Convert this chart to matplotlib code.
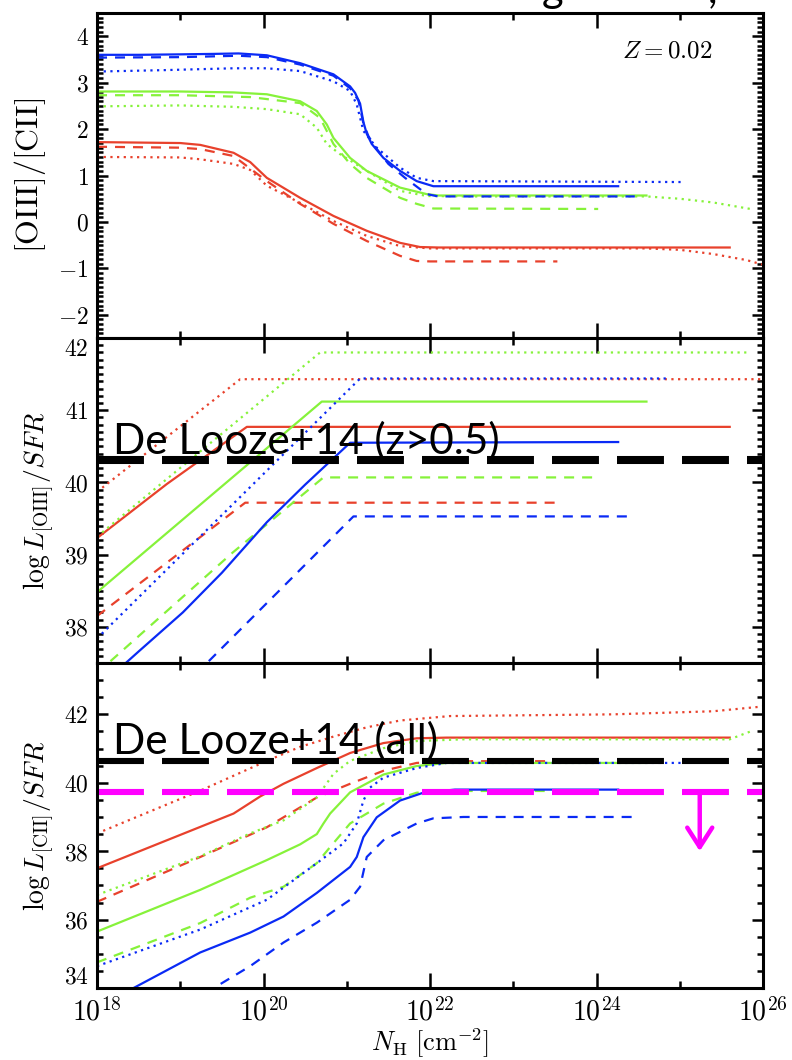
import numpy as np
import matplotlib
matplotlib.use("Agg")
import matplotlib.pyplot as plt
from matplotlib.ticker import FixedLocator, MultipleLocator, FuncFormatter, NullFormatter

plt.rcParams['mathtext.fontset'] = 'cm'
plt.rcParams['font.family'] = ['DejaVu Serif']

# ---- data: (log N_H, value) ----
# top panel: [OIII]/[CII]
ratio_red_solid = [(18.0, 1.72), (19.0, 1.70), (19.24, 1.66), (19.64, 1.49), (19.84, 1.29), (20.04, 0.95),
                   (20.44, 0.52), (20.84, 0.13), (21.24, -0.19), (21.64, -0.45), (21.88, -0.54), (22.1, -0.55),
                   (25.6, -0.55)]
ratio_red_dashed = [(18.0, 1.62), (19.0, 1.60), (19.24, 1.57), (19.64, 1.42), (20.04, 0.88), (20.44, 0.39),
                    (20.84, -0.04), (21.24, -0.41), (21.64, -0.73), (21.84, -0.84), (22.0, -0.85), (23.53, -0.85)]
ratio_red_dotted = [(18.0, 1.40), (19.0, 1.39), (19.24, 1.35), (19.64, 1.25), (19.84, 1.12), (20.04, 0.78),
                    (20.44, 0.41), (20.84, 0.02), (21.24, -0.30), (21.64, -0.52), (22.0, -0.57), (24.6, -0.57),
                    (25.0, -0.60), (25.4, -0.69), (25.8, -0.82), (26.0, -0.92)]
ratio_green_solid = [(18.0, 2.81), (19.0, 2.81), (19.64, 2.79), (20.04, 2.75), (20.44, 2.60), (20.64, 2.39),
                     (20.76, 2.10), (20.84, 1.81), (21.04, 1.38), (21.24, 1.10), (21.64, 0.74), (21.96, 0.60),
                     (22.1, 0.57), (24.6, 0.57)]
ratio_green_dashed = [(18.0, 2.73), (19.0, 2.73), (19.84, 2.69), (20.44, 2.56), (20.68, 2.24), (20.84, 1.68),
                      (21.04, 1.25), (21.24, 0.95), (21.64, 0.52), (21.84, 0.39), (22.04, 0.29), (24.02, 0.28)]
ratio_green_dotted = [(18.0, 2.49), (19.0, 2.51), (19.64, 2.48), (20.04, 2.43), (20.44, 2.32), (20.64, 2.03),
                      (20.76, 1.68), (20.92, 1.46), (21.24, 1.10), (21.64, 0.67), (21.96, 0.56), (22.5, 0.55),
                      (24.6, 0.55), (25.0, 0.50), (25.4, 0.42), (25.85, 0.28)]
ratio_blue_solid = [(18.0, 3.60), (18.5, 3.60), (19.0, 3.61), (19.4, 3.62), (19.7, 3.63), (20.04, 3.59),
                    (20.44, 3.42), (20.84, 3.18), (21.04, 2.92), (21.10, 2.78), (21.16, 2.55), (21.20, 2.15),
                    (21.24, 1.90), (21.30, 1.68), (21.44, 1.38), (21.64, 1.10), (21.84, 0.88), (22.04, 0.77),
                    (24.26, 0.77)]
ratio_blue_dashed = [(18.0, 3.54), (19.0, 3.55), (19.7, 3.58), (20.04, 3.55), (20.44, 3.39), (20.84, 3.15),
                     (21.04, 2.88), (21.14, 2.62), (21.20, 2.12), (21.26, 1.85), (21.34, 1.62), (21.5, 1.25),
                     (21.7, 0.95), (21.96, 0.60), (22.1, 0.55), (24.46, 0.55)]
ratio_blue_dotted = [(18.0, 3.24), (18.8, 3.27), (19.64, 3.31), (20.04, 3.31), (20.44, 3.25), (20.84, 3.03),
                     (21.04, 2.82), (21.12, 2.53), (21.20, 1.96), (21.36, 1.60), (21.64, 1.17), (21.84, 0.95),
                     (22.04, 0.88), (25.03, 0.86)]

# middle panel: log L[OIII]/SFR
oiii_red_solid = [(18.0, 39.23), (18.84, 39.98), (19.8, 40.77), (25.6, 40.77)]
oiii_red_dashed = [(18.0, 38.15), (19.78, 39.72), (23.53, 39.72)]
oiii_red_dotted = [(18.0, 39.87), (19.72, 41.43), (26.0, 41.43)]
oiii_green_solid = [(18.0, 38.48), (20.7, 41.12), (24.6, 41.12)]
oiii_green_dashed = [(18.0, 37.36), (19.63, 39.03), (20.72, 40.07), (24.04, 40.07)]
oiii_green_dotted = [(18.0, 39.25), (20.68, 41.80), (25.8, 41.80)]
oiii_blue_solid = [(18.2, 37.35), (18.5, 37.66), (19.03, 38.20), (19.5, 38.75), (20.04, 39.45), (20.5, 39.97),
                   (21.04, 40.55), (24.26, 40.56)]
oiii_blue_dashed = [(19.19, 37.35), (21.08, 39.53), (24.46, 39.53)]
oiii_blue_dotted = [(18.0, 37.84), (21.16, 41.44), (24.88, 41.44)]

# bottom panel: log L[CII]/SFR
cii_red_solid = [(18.0, 37.50), (18.84, 38.32), (19.64, 39.10), (19.96, 39.60), (20.24, 39.97), (20.64, 40.43),
                 (21.04, 40.87), (21.44, 41.16), (21.84, 41.30), (22.2, 41.32), (25.6, 41.32)]
cii_red_dashed = [(18.0, 36.52), (19.24, 37.83), (20.04, 38.70), (20.24, 38.99), (20.64, 39.57), (21.04, 39.97),
                  (21.44, 40.35), (21.84, 40.58), (22.2, 40.63), (23.53, 40.63)]
cii_red_dotted = [(18.0, 38.52), (19.24, 39.77), (20.04, 40.64), (20.44, 41.05), (20.84, 41.35), (21.24, 41.62),
                  (21.64, 41.82), (22.24, 41.95), (24.2, 42.00), (25.4, 42.09), (26.0, 42.23)]
cii_green_solid = [(18.0, 35.65), (19.24, 36.87), (20.04, 37.74), (20.44, 38.20), (20.64, 38.50), (20.72, 38.81),
                   (20.8, 39.10), (21.04, 39.72), (21.44, 40.24), (21.84, 40.49), (22.2, 40.58), (24.6, 40.58)]
cii_green_dashed = [(18.0, 34.75), (19.24, 35.90), (19.84, 36.64), (20.24, 36.96), (20.64, 37.65), (20.8, 38.12),
                    (21.04, 38.81), (21.44, 39.39), (21.84, 39.71), (22.2, 39.76), (24.0, 39.76)]
cii_green_dotted = [(18.0, 36.72), (19.24, 37.85), (19.84, 38.52), (20.24, 38.90), (20.64, 39.57), (20.84, 40.26),
                    (21.04, 40.64), (21.44, 41.01), (21.84, 41.22), (22.4, 41.27), (25.6, 41.27), (25.85, 41.50)]
cii_blue_solid = [(18.3, 33.82), (19.24, 35.04), (19.84, 35.62), (20.24, 36.09), (20.64, 36.78), (21.04, 37.54),
                  (21.12, 37.83), (21.2, 38.41), (21.36, 38.99), (21.64, 39.48), (21.92, 39.71), (22.3, 39.80),
                  (24.26, 39.80)]
cii_blue_dashed = [(19.3, 33.85), (19.84, 34.64), (20.24, 35.33), (20.64, 35.91), (21.04, 36.58), (21.16, 36.96),
                   (21.24, 37.83), (21.44, 38.32), (21.84, 38.81), (22.04, 38.96), (22.4, 39.00), (24.46, 39.00)]
cii_blue_dotted = [(18.0, 34.64), (19.24, 35.71), (20.04, 36.58), (20.64, 37.65), (20.96, 38.23), (21.12, 38.81),
                   (21.2, 39.48), (21.28, 39.86), (21.44, 40.15), (21.84, 40.43), (22.2, 40.58), (25.03, 40.58)]

# observational references
delooze_highz = 40.31
delooze_all = 40.65
upper_limit = 39.74
arrow_logn = 25.24
arrow_tip = 38.0

RED = '#E8412C'
GREEN = '#86F23A'
BLUE = '#0A2AF5'
MAGENTA = '#FF00FF'


def draw_curve(ax, pts, color, style):
    arr = np.array(pts)
    line, = ax.plot(10 ** arr[:, 0], arr[:, 1], color=color, lw=1.6)
    if style == 'dashed':
        line.set_dashes((4.5, 3.6))
    elif style == 'dotted':
        line.set_dashes((1, 2))


def num_fmt(v, pos):
    return r'$%g$' % v


def pow_fmt(v, pos):
    return r'$10^{%d}$' % round(np.log10(v))


fig = plt.figure(figsize=(7.92, 10.6), dpi=100)
axes = fig.subplots(3, 1, sharex=True, gridspec_kw=dict(hspace=0))
fig.subplots_adjust(left=0.1225, right=0.9634, top=0.9877, bottom=0.0679)

panels = [
    [(ratio_red_solid, RED, 'solid'), (ratio_red_dashed, RED, 'dashed'), (ratio_red_dotted, RED, 'dotted'),
     (ratio_green_solid, GREEN, 'solid'), (ratio_green_dashed, GREEN, 'dashed'), (ratio_green_dotted, GREEN, 'dotted'),
     (ratio_blue_solid, BLUE, 'solid'), (ratio_blue_dashed, BLUE, 'dashed'), (ratio_blue_dotted, BLUE, 'dotted')],
    [(oiii_red_solid, RED, 'solid'), (oiii_red_dashed, RED, 'dashed'), (oiii_red_dotted, RED, 'dotted'),
     (oiii_green_solid, GREEN, 'solid'), (oiii_green_dashed, GREEN, 'dashed'), (oiii_green_dotted, GREEN, 'dotted'),
     (oiii_blue_solid, BLUE, 'solid'), (oiii_blue_dashed, BLUE, 'dashed'), (oiii_blue_dotted, BLUE, 'dotted')],
    [(cii_red_solid, RED, 'solid'), (cii_red_dashed, RED, 'dashed'), (cii_red_dotted, RED, 'dotted'),
     (cii_green_solid, GREEN, 'solid'), (cii_green_dashed, GREEN, 'dashed'), (cii_green_dotted, GREEN, 'dotted'),
     (cii_blue_solid, BLUE, 'solid'), (cii_blue_dashed, BLUE, 'dashed'), (cii_blue_dotted, BLUE, 'dotted')],
]

ylims = [(-2.5, 4.5), (37.5, 42.0), (34.0, 43.5)]
ymajor = [1, 1, 2]
yminor = [0.1, 0.1, 0.5]
ylabels = [r'$[\mathrm{OIII}]/[\mathrm{CII}]$',
           r'$\log L_{[\mathrm{OIII}]}/SFR$',
           r'$\log L_{[\mathrm{CII}]}/SFR$']
ylabel_size = [23, 20, 20]
ylabel_x = [-0.074, -0.062, -0.062]

for ax, curves, ylim, maj, mnr, lab, lsz, lx in zip(axes, panels, ylims, ymajor, yminor, ylabels,
                                                    ylabel_size, ylabel_x):
    for pts, color, style in curves:
        draw_curve(ax, pts, color, style)
    ax.set_xscale('log')
    ax.set_xlim(1e18, 1e26)
    ax.set_ylim(*ylim)
    ax.xaxis.set_major_locator(FixedLocator(10.0 ** np.arange(18, 27, 2)))
    ax.xaxis.set_minor_locator(FixedLocator(10.0 ** np.arange(19, 26, 2)))
    ax.xaxis.set_major_formatter(FuncFormatter(pow_fmt))
    ax.xaxis.set_minor_formatter(NullFormatter())
    ax.yaxis.set_major_locator(MultipleLocator(maj))
    ax.yaxis.set_minor_locator(MultipleLocator(mnr))
    ax.yaxis.set_major_formatter(FuncFormatter(num_fmt))
    ax.tick_params(which='both', direction='in', top=True, right=True, width=1.8, labelsize=17)
    ax.tick_params(axis='x', which='major', length=11, pad=7, labelsize=20)
    ax.tick_params(axis='x', which='minor', length=5)
    ax.tick_params(axis='y', which='major', length=8, pad=6)
    ax.tick_params(axis='y', which='minor', length=4)
    for sp in ax.spines.values():
        sp.set_linewidth(2.2)
    ax.set_ylabel(lab, fontsize=lsz)
    ax.yaxis.set_label_coords(lx, 0.5)

# nudge the edge labels inwards like the original
fig.canvas.draw()
for lbl in axes[1].get_yticklabels():
    if lbl.get_text() == '$42$':
        lbl.set_va('top')
for lbl in axes[2].get_yticklabels():
    if lbl.get_text() == '$34$':
        lbl.set_va('bottom')

axes[0].text(0.856, 0.882, r'$Z{=}0.02$', transform=axes[0].transAxes, fontsize=18,
             ha='center', va='center')

# De Looze+14 references
axes[1].axhline(delooze_highz, color='black', lw=5.8, dashes=(33.8 / 5.8, 13 / 5.8))
axes[1].text(0.024, 0.644, 'De Looze+14 (z>0.5)', transform=axes[1].transAxes, family='Lato',
             fontsize=30.5, va='baseline', ha='left', color='black')

axes[2].axhline(delooze_all, color='black', lw=4.4, dashes=(33.8 / 4.4, 13 / 4.4))
axes[2].axhline(upper_limit, color=MAGENTA, lw=4.4, dashes=(33.8 / 4.4, 13 / 4.4))
axes[2].annotate('', xy=(10 ** arrow_logn, arrow_tip), xytext=(10 ** arrow_logn, upper_limit),
                 arrowprops=dict(arrowstyle='->,head_length=1.4,head_width=0.9', color=MAGENTA, lw=3.2,
                                 shrinkA=0, shrinkB=0))
axes[2].text(0.024, 0.721, 'De Looze+14 (all)', transform=axes[2].transAxes, family='Lato',
             fontsize=30.5, va='baseline', ha='left', color='black')

axes[2].set_xlabel(r'$N_{\rm H}\ [{\rm cm}^{-2}]$', fontsize=19, labelpad=0)

# clipped slide title at the very top
fig.text(553 / 792, 1 - 2 / 1060, 'g', family='Lato', fontsize=30, ha='center', va='baseline')
fig.text(712 / 792, 1 - 2 / 1060, ',', family='Lato', fontsize=30, ha='center', va='baseline')

fig.savefig('out.png', dpi=100)
